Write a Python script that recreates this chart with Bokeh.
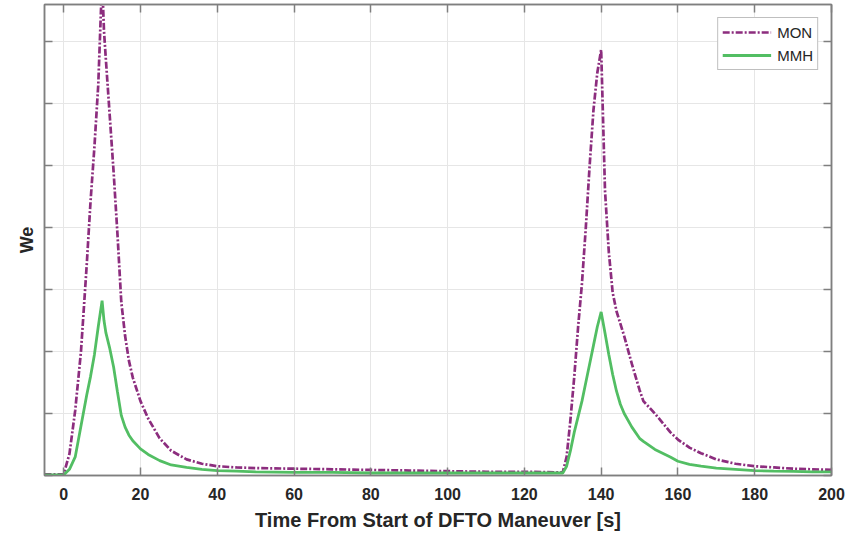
from bokeh.plotting import figure
from bokeh.models import LinearAxis, FixedTicker, Legend, LegendItem, Range1d
from bokeh.embed import file_html
from bokeh.resources import INLINE

# ---- data ----
time_s = [-5, 0, 1.5, 3, 4.5, 6, 7, 8, 9, 10, 10.5, 11, 12, 13, 14, 15, 16, 17, 18,
          20, 22, 25, 28, 32, 36, 40, 45, 50, 60, 70, 80, 90, 100, 110, 120, 130,
          131, 132, 133, 134, 135, 136, 137, 138, 139, 140, 141, 142, 143, 144, 145,
          146, 148, 150, 151, 154, 158, 160, 163, 166, 170, 175, 180, 185, 190, 195, 200]
mon = [0.02, 0.02, 0.35, 1.05, 2.0, 3.4, 4.43, 5.3, 6.3, 8.0, 7.17, 6.7, 5.8, 4.9, 3.9,
       2.8, 2.25, 1.85, 1.58, 1.2, 0.92, 0.6, 0.4, 0.26, 0.19, 0.15, 0.13, 0.12, 0.11,
       0.1, 0.09, 0.08, 0.07, 0.06, 0.06, 0.05,
       0.3, 0.9, 1.6, 2.4, 3.1, 4.0, 5.0, 5.9, 6.5, 6.87, 4.6, 3.6, 2.95, 2.65, 2.45,
       2.25, 1.8, 1.38, 1.2, 1.0, 0.7, 0.58, 0.45, 0.36, 0.26, 0.19, 0.15, 0.13, 0.11,
       0.1, 0.09]
mmh = [0.01, 0.01, 0.1, 0.3, 0.8, 1.3, 1.6, 1.95, 2.4, 2.82, 2.5, 2.3, 2.05, 1.75, 1.35,
       0.97, 0.78, 0.65, 0.56, 0.43, 0.34, 0.24, 0.17, 0.13, 0.1, 0.08, 0.07, 0.06, 0.05,
       0.05, 0.04, 0.04, 0.04, 0.04, 0.04, 0.04,
       0.15, 0.4, 0.7, 0.95, 1.2, 1.5, 1.8, 2.1, 2.4, 2.64, 2.3, 1.95, 1.63, 1.36, 1.15,
       1.0, 0.78, 0.6, 0.55, 0.42, 0.3, 0.23, 0.18, 0.15, 0.12, 0.1, 0.08, 0.07, 0.065,
       0.06, 0.06]
x_ticks = [0, 20, 40, 60, 80, 100, 120, 140, 160, 180, 200]
y_ticks = [0, 1, 2, 3, 4, 5, 6, 7]

MON_COLOR = "#8C2D7E"
MMH_COLOR = "#52BE63"
AXIS_COLOR = "#7f7f7f"
GRID_COLOR = "#e6e6e6"
TEXT_COLOR = "#262626"
FONT = "Liberation Sans"

p = figure(width=856, height=535, x_range=Range1d(-5, 200), y_range=Range1d(0, 7.6),
           output_backend="svg", toolbar_location=None,
           min_border_left=44, min_border_right=25, min_border_top=4, min_border_bottom=60)
p.background_fill_color = "white"
p.border_fill_color = "white"
p.outline_line_color = AXIS_COLOR
p.outline_line_width = 1.5

r_mon = p.line(time_s, mon, line_color=MON_COLOR, line_width=2.7, line_dash="7 2 2 2")
r_mmh = p.line(time_s, mmh, line_color=MMH_COLOR, line_width=2.8)

# grid
p.xgrid.ticker = FixedTicker(ticks=x_ticks)
p.ygrid.ticker = FixedTicker(ticks=y_ticks)
p.grid.grid_line_color = GRID_COLOR
p.grid.grid_line_width = 1

# bottom axis
xa = p.xaxis[0]
xa.ticker = FixedTicker(ticks=x_ticks)
xa.axis_label = "Time From Start of DFTO Maneuver [s]"
xa.axis_label_text_font = FONT
xa.axis_label_text_font_style = "bold"
xa.axis_label_text_font_size = "20px"
xa.axis_label_text_color = TEXT_COLOR
xa.axis_label_standoff = 6
xa.major_label_text_font = FONT
xa.major_label_text_font_style = "bold"
xa.major_label_text_font_size = "16px"
xa.major_label_text_color = TEXT_COLOR
xa.major_label_standoff = 12

# left axis (ticks only, no tick labels)
ya = p.yaxis[0]
ya.ticker = FixedTicker(ticks=y_ticks)
ya.axis_label = "We"
ya.axis_label_text_font = FONT
ya.axis_label_text_font_style = "bold"
ya.axis_label_text_font_size = "18px"
ya.axis_label_text_color = TEXT_COLOR
ya.axis_label_standoff = 8
ya.major_label_text_font_size = "1px"
ya.major_label_text_color = None
ya.major_label_standoff = 0

for ax in (xa, ya):
    ax.axis_line_color = AXIS_COLOR
    ax.axis_line_width = 1.5
    ax.major_tick_line_color = AXIS_COLOR
    ax.major_tick_line_width = 1.5
    ax.major_tick_in = 8
    ax.major_tick_out = 0
    ax.minor_tick_line_color = None

top = LinearAxis(ticker=FixedTicker(ticks=x_ticks))
right = LinearAxis(ticker=FixedTicker(ticks=y_ticks))
for ax in (top, right):
    ax.major_label_text_font_size = "1px"
    ax.major_label_text_color = None
    ax.major_label_standoff = 0
    ax.axis_line_color = AXIS_COLOR
    ax.axis_line_width = 1.5
    ax.major_tick_line_color = AXIS_COLOR
    ax.major_tick_line_width = 1.5
    ax.major_tick_in = 8
    ax.major_tick_out = 0
    ax.minor_tick_line_color = None
p.add_layout(top, "above")
p.add_layout(right, "right")

legend = Legend(items=[LegendItem(label="MON", renderers=[r_mon]),
                       LegendItem(label="MMH", renderers=[r_mmh])],
                location="top_right")
legend.margin = 13
legend.padding = 4
legend.spacing = 3
legend.glyph_width = 49
legend.glyph_height = 20
legend.label_height = 20
legend.label_standoff = 6
legend.label_text_font = FONT
legend.label_text_font_size = "15px"
legend.label_text_color = TEXT_COLOR
legend.border_line_color = AXIS_COLOR
legend.border_line_width = 1
legend.background_fill_color = "white"
legend.background_fill_alpha = 1
p.add_layout(legend, "center")

open("out.html", "w").write(file_html(p, INLINE))
